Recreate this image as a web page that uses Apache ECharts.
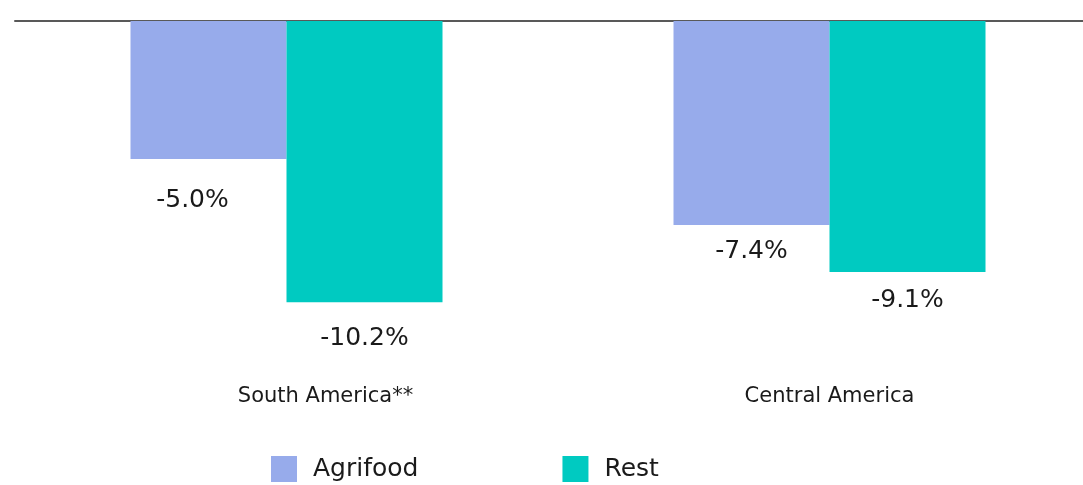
<!DOCTYPE html>
<html>
<head>
<meta charset="utf-8">
<script src="https://cdn.jsdelivr.net/npm/echarts@6/dist/echarts.min.js"></script>
<style>
html,body{margin:0;padding:0;background:#fff;overflow:hidden;}
#chart{width:1101px;height:485px;}
</style>
</head>
<body>
<div id="chart"></div>
<script>
const categories = ['South America**', 'Central America'];
const agrifood = [-5.0, -7.4];
const rest = [-10.2, -9.1];
const seriesNames = ['Agrifood', 'Rest'];

const FONT = 'DejaVu Sans';
const chart = echarts.init(document.getElementById('chart'), null, {renderer: 'canvas'});

function labelFor(dist, offX) {
  return {
    show: true, position: 'bottom', distance: dist, offset: [offX, 0],
    formatter: p => p.value.toFixed(1) + '%',
    fontFamily: FONT, fontSize: 25, color: '#1a1a1a'
  };
}

const option = {
  animation: false,
  grid: {left: 15, right: 0, top: 21, bottom: 133, containLabel: false},
  legend: {
    left: 271, top: 456, padding: 0,
    itemWidth: 26, itemHeight: 26, itemGap: 144,
    icon: 'rect',
    textStyle: {fontFamily: FONT, fontSize: 25, color: '#1a1a1a', padding: [0, 0, 0, 11]},
    data: seriesNames
  },
  xAxis: [
    {
      type: 'category', position: 'top', data: categories,
      axisLine: {show: true, lineStyle: {color: '#595959', width: 2}},
      axisTick: {show: false}, axisLabel: {show: false}
    },
    {
      type: 'category', position: 'bottom',
      data: categories.map((c, i) => i === 0 ? {value: c, textStyle: {padding: [0, 0, 0, 78]}} : c),
      axisLine: {show: false}, axisTick: {show: false},
      axisLabel: {fontFamily: FONT, fontSize: 21, color: '#1a1a1a', margin: 34}
    }
  ],
  yAxis: {
    type: 'value', min: -12, max: 0, show: false
  },
  series: [
    {
      name: seriesNames[0], type: 'bar', xAxisIndex: 0, barWidth: 156, barGap: '0%',
      itemStyle: {color: '#97ABEB'},
      data: agrifood.map((v, i) => ({value: v, label: labelFor(i === 0 ? 29 : 14, i === 0 ? -16 : 0)}))
    },
    {
      name: seriesNames[1], type: 'bar', xAxisIndex: 0, barWidth: 156, barGap: '0%',
      itemStyle: {color: '#00CAC1'},
      data: rest.map((v, i) => ({value: v, label: labelFor(i === 0 ? 24 : 16, 0)}))
    }
  ]
};
chart.setOption(option);
</script>
</body>
</html>
